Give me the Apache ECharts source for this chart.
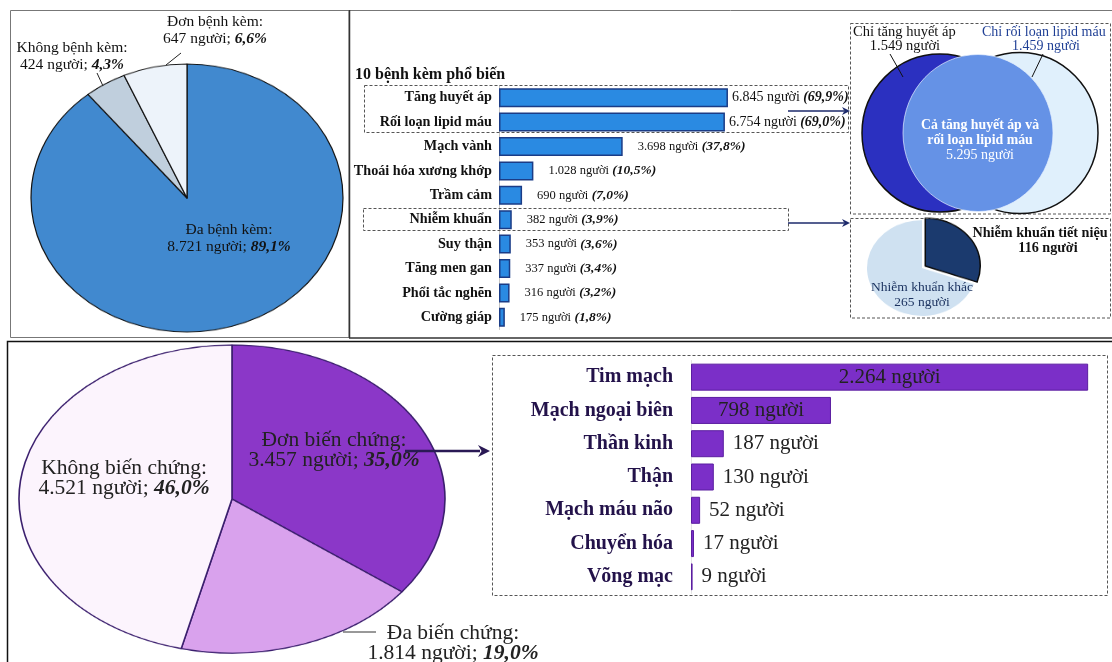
<!DOCTYPE html>
<html>
<head>
<meta charset="utf-8">
<script src="https://cdn.jsdelivr.net/npm/echarts@6/dist/echarts.min.js"></script>
<style>
html,body{margin:0;padding:0;background:#fff;width:1112px;height:662px;overflow:hidden;position:relative}
.layer{position:absolute}
</style>
</head>
<body>
<div id="pieA" class="layer" style="left:29px;top:40px;width:316px;height:316px;transform:scaleY(0.859);transform-origin:50% 50%"></div>
<div id="pieB" class="layer" style="left:17px;top:284px;width:430px;height:430px;transform:scaleY(0.723);transform-origin:50% 50%"></div>
<div id="pieC" class="layer" style="left:862px;top:208px;width:120px;height:120px;transform:scaleY(0.87);transform-origin:50% 50%"></div>
<div id="main" class="layer" style="left:0;top:0;width:1112px;height:662px"></div>
<script>
// ---------------- DATA ----------------
const pie1Labels = ['Đa bệnh kèm', 'Không bệnh kèm', 'Đơn bệnh kèm'];
const pie1Values = [8721, 424, 647];
const pie1Pct = [89.1, 4.3, 6.6];

const topTitle = '10 bệnh kèm phổ biến';
const top10Cats = ['Tăng huyết áp', 'Rối loạn lipid máu', 'Mạch vành', 'Thoái hóa xương khớp', 'Trầm cảm',
  'Nhiễm khuẩn', 'Suy thận', 'Tăng men gan', 'Phổi tắc nghẽn', 'Cường giáp'];
const top10Values = [6845, 6754, 3698, 1028, 690, 382, 353, 337, 316, 175];
const top10Pct = [69.9, 69.0, 37.8, 10.5, 7.0, 3.9, 3.6, 3.4, 3.2, 1.8];

const vennLabels = ['Chỉ tăng huyết áp', 'Chỉ rối loạn lipid máu', 'Cả tăng huyết áp và', 'rối loạn lipid máu'];
const vennValues = [1549, 1459, 5295];

const infLabels = ['Nhiễm khuẩn tiết niệu', 'Nhiễm khuẩn khác'];
const infValues = [116, 265];

const pie2Labels = ['Đơn biến chứng', 'Đa biến chứng', 'Không biến chứng'];
const pie2Values = [3457, 1814, 4521];
const pie2Pct = [35.0, 19.0, 46.0];

const compCats = ['Tim mạch', 'Mạch ngoại biên', 'Thần kinh', 'Thận', 'Mạch máu não', 'Chuyển hóa', 'Võng mạc'];
const compValues = [2264, 798, 187, 130, 52, 17, 9];

// ---------------- HELPERS ----------------
const SERIF = "'Liberation Serif','Times New Roman',serif";
function fmtNum(v) { return String(v).replace(/\B(?=(\d{3})+(?!\d))/g, '.'); }
function fmtPct(p) { return p.toFixed(1).replace('.', ',') + '%'; }
function txt(x, y, text, o) {
  o = o || {};
  return {
    type: 'text', x: x, y: y, z: 100,
    style: {
      text: text,
      fill: o.fill || '#111',
      fontFamily: SERIF,
      fontSize: o.size || 15,
      fontWeight: o.weight || 'normal',
      fontStyle: o.style || 'normal',
      align: o.align || 'center',
      verticalAlign: 'middle',
      rich: o.rich
    }
  };
}
function line(x1, y1, x2, y2, stroke, w, dash) {
  return { type: 'line', z: 90, shape: { x1: x1, y1: y1, x2: x2, y2: y2 },
    style: { stroke: stroke, lineWidth: w || 1, lineDash: dash || null } };
}
function dashRect(x, y, w, h) {
  return { type: 'rect', z: 80, shape: { x: x, y: y, width: w, height: h },
    style: { fill: 'none', stroke: '#555', lineWidth: 1, lineDash: [3, 2] } };
}
function arrow(x1, y, x2, color, w, hl, hh) {
  return [
    line(x1, y, x2 - hl + 2, y, color, w),
    { type: 'polygon', z: 91, shape: { points: [[x2, y], [x2 - hl, y - hh], [x2 - hl * 0.7, y], [x2 - hl, y + hh]] },
      style: { fill: color } }
  ];
}

// ---------------- PIES (scaled layers) ----------------
const pieA = echarts.init(document.getElementById('pieA'));
pieA.setOption({
  animation: false,
  series: [{
    type: 'pie', radius: 156, center: ['50%', '50%'], startAngle: 90, clockwise: true, silent: true,
    label: { show: false }, labelLine: { show: false },
    itemStyle: { borderColor: '#111', borderWidth: 1.2 },
    data: pie1Labels.map((n, i) => ({ name: n, value: pie1Values[i],
      itemStyle: { color: ['#4189cf', '#c0cfdd', '#edf3fa'][i] } }))
  }]
});

const pieB = echarts.init(document.getElementById('pieB'));
pieB.setOption({
  animation: false,
  series: [{
    type: 'pie', radius: 213, center: ['50%', '50%'], startAngle: 90, clockwise: true, silent: true,
    label: { show: false }, labelLine: { show: false },
    itemStyle: { borderColor: '#3b1f6e', borderWidth: 1.6 },
    data: pie2Labels.map((n, i) => ({ name: n, value: pie2Values[i],
      itemStyle: { color: ['#8b37c8', '#d9a2ed', '#fcf4fd'][i] } }))
  }]
});

const pieC = echarts.init(document.getElementById('pieC'));
pieC.setOption({
  animation: false,
  series: [{
    type: 'pie', radius: 55, center: ['50%', '50%'], startAngle: 90, clockwise: true, silent: true,
    selectedMode: 'single', selectedOffset: 4,
    label: { show: false }, labelLine: { show: false },
    data: infLabels.map((n, i) => ({ name: n, value: infValues[i], selected: i === 0,
      itemStyle: i === 0 ? { color: '#1b3a6e', borderColor: '#0b0b0b', borderWidth: 1.5 }
                         : { color: '#cfe1f1', borderWidth: 0 } }))
  }]
});

// ---------------- MAIN LAYER ----------------
const g = [];
// panel borders
g.push({ type: 'rect', z: 70, shape: { x: 10.5, y: 10.5, width: 338.5, height: 327 }, style: { fill: 'none', stroke: '#777', lineWidth: 1 } });
g.push(line(349, 10.5, 1112, 10.5, '#777', 1));
g.push(line(349.5, 10, 349.5, 338, '#333', 1.5));
g.push(line(349, 338, 1112, 338, '#333', 1.5));
g.push({ type: 'polyline', z: 70, shape: { points: [[7.5, 662], [7.5, 341.5], [1112, 341.5]] }, style: { fill: 'none', stroke: '#111', lineWidth: 1.5 } });

// top-left pie labels
const richB = { b: { fontFamily: SERIF, fontSize: 15.5, fontWeight: 'bold', fontStyle: 'italic', fill: '#111' } };
const pie1Pos = [[229, 230], [72, 48], [215, 22]];
pie1Labels.forEach((n, i) => {
  g.push(txt(pie1Pos[i][0], pie1Pos[i][1], n + ':', { size: 15.5 }));
  g.push(txt(pie1Pos[i][0], pie1Pos[i][1] + 17, fmtNum(pie1Values[i]) + ' người; {b|' + fmtPct(pie1Pct[i]) + '}', { size: 15.5, rich: richB }));
});
g.push(line(166, 65, 181, 53, '#222', 1));
g.push(line(97, 73, 103, 86, '#222', 1));

// top bar title & boxes
g.push(txt(355, 75, topTitle, { size: 16, weight: 'bold', align: 'left' }));
g.push(dashRect(364.5, 85.5, 484, 47));
g.push(dashRect(363.5, 208.5, 425, 22));
arrow(788, 111, 850, '#1d2a6b', 1.5, 8, 4).forEach(e => g.push(e));
arrow(788, 223, 850, '#1d2a6b', 1.5, 8, 4).forEach(e => g.push(e));

// Venn
g.push(dashRect(850.5, 23.5, 260, 190.5));
g.push({ type: 'ellipse', z: 81, shape: { cx: 940, cy: 133, rx: 78, ry: 79 }, style: { fill: '#2b30c0', stroke: '#111', lineWidth: 1.5 } });
g.push({ type: 'ellipse', z: 82, shape: { cx: 1020, cy: 133, rx: 78, ry: 80.5 }, style: { fill: '#e0f0fc', stroke: '#111', lineWidth: 1.5 } });
g.push({ type: 'ellipse', z: 83, shape: { cx: 978, cy: 133, rx: 75, ry: 78.5 }, style: { fill: '#6592e6', stroke: 'rgba(230,240,255,0.7)', lineWidth: 1 } });
g.push(txt(853, 32, vennLabels[0], { size: 14.5, align: 'left' }));
g.push(txt(905, 46, fmtNum(vennValues[0]) + ' người', { size: 14.5 }));
g.push(txt(982, 32, vennLabels[1], { size: 14, align: 'left', fill: '#1f3f95' }));
g.push(txt(1046, 46, fmtNum(vennValues[1]) + ' người', { size: 14, fill: '#1f3f95' }));
g.push(line(890, 54, 903, 77, '#111', 1));
g.push(line(1043, 54, 1032, 77, '#111', 1));
g.push(txt(980, 125, vennLabels[2], { size: 13.8, weight: 'bold', fill: '#fff' }));
g.push(txt(980, 140, vennLabels[3], { size: 13.8, weight: 'bold', fill: '#fff' }));
g.push(txt(980, 155, fmtNum(vennValues[2]) + ' người', { size: 14, fill: '#fff' }));

// infection pie box & labels
g.push(dashRect(850.5, 218.5, 260, 99.5));
g.push(txt(1040, 233, infLabels[0], { size: 14.2, weight: 'bold' }));
g.push(txt(1048, 248, fmtNum(infValues[0]) + ' người', { size: 14.2, weight: 'bold' }));
g.push(txt(922, 287, infLabels[1], { size: 13.5, fill: '#1d3461' }));
g.push(txt(922, 302, fmtNum(infValues[1]) + ' người', { size: 13.5, fill: '#1d3461' }));

// bottom pie labels
const richB2 = { b: { fontFamily: SERIF, fontSize: 21.5, fontWeight: 'bold', fontStyle: 'italic', fill: '#222' } };
const pie2Pos = [[334, 440], [453, 633], [124, 468]];
pie2Labels.forEach((n, i) => {
  g.push(txt(pie2Pos[i][0], pie2Pos[i][1], n + ':', { size: 21.5, fill: '#222' }));
  g.push(txt(pie2Pos[i][0], pie2Pos[i][1] + 20, fmtNum(pie2Values[i]) + ' người; {b|' + fmtPct(pie2Pct[i]) + '}', { size: 21.5, fill: '#222', rich: richB2 }));
});
g.push(line(343, 632, 376, 632, '#333', 1));
arrow(405, 451, 490, '#2a1955', 2.5, 12, 6).forEach(e => g.push(e));
g.push(dashRect(492.5, 355.5, 615, 240));

const main = echarts.init(document.getElementById('main'));
main.setOption({
  backgroundColor: 'transparent',
  animation: false,
  grid: [
    { left: 499, top: 85.5, width: 334.5, height: 244 },
    { left: 691, top: 360.5, width: 424, height: 233 }
  ],
  xAxis: [
    { gridIndex: 0, type: 'value', min: 0, max: 10000, show: false },
    { gridIndex: 1, type: 'value', min: 0, max: 2400, show: false }
  ],
  yAxis: [
    { gridIndex: 0, type: 'category', data: top10Cats, inverse: true,
      axisLine: { show: true, lineStyle: { color: '#c4c4c4', width: 1 } }, axisTick: { show: false },
      axisLabel: { fontFamily: SERIF, fontWeight: 'bold', fontSize: 14.2, color: '#111', margin: 7 } },
    { gridIndex: 1, type: 'category', data: compCats, inverse: true,
      axisLine: { show: true, lineStyle: { color: '#e4e4e4', width: 1 } }, axisTick: { show: false },
      axisLabel: { fontFamily: SERIF, fontWeight: 'bold', fontSize: 20, color: '#23124a', margin: 18 } }
  ],
  series: [
    { type: 'bar', xAxisIndex: 0, yAxisIndex: 0, barWidth: 19, silent: true,
      itemStyle: { color: '#2a8ae2', borderColor: '#1b3c86', borderWidth: 1.5 },
      data: top10Values.map((v, i) => ({ value: v, label: { distance: i < 2 ? 4 : 15 } })),
      label: { show: true, position: 'right',
        formatter: p => {
          const i = p.dataIndex, k = i < 2 ? 'a' : 'n', q = i < 2 ? 'b' : 'p';
          return '{' + k + '|' + fmtNum(top10Values[i]) + ' người} {' + q + '|(' + fmtPct(top10Pct[i]) + ')}';
        },
        rich: {
          a: { fontFamily: SERIF, fontSize: 14, color: '#111' },
          b: { fontFamily: SERIF, fontSize: 14, color: '#111', fontWeight: 'bold', fontStyle: 'italic' },
          n: { fontFamily: SERIF, fontSize: 12.5, color: '#111' },
          p: { fontFamily: SERIF, fontSize: 13.5, color: '#111', fontWeight: 'bold', fontStyle: 'italic' }
        } } },
    { type: 'bar', xAxisIndex: 1, yAxisIndex: 1, barWidth: 27, silent: true,
      itemStyle: { color: '#7b2fc8', borderColor: '#5b1ea0', borderWidth: 1 },
      data: compValues.map(v => ({ value: v, label: { position: v > 500 ? 'inside' : 'right' } })),
      label: { show: true, distance: 9, fontFamily: SERIF, fontSize: 21, color: '#222',
        formatter: p => fmtNum(p.value) + ' người' } }
  ],
  graphic: { elements: g }
});
</script>
</body>
</html>
